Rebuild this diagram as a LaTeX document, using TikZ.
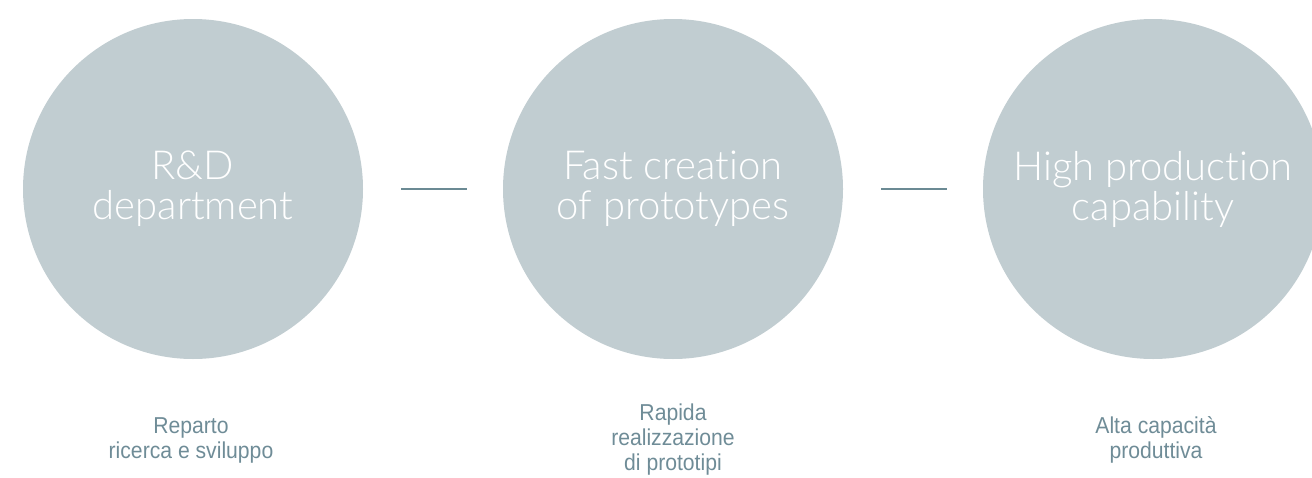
\documentclass[tikz,border=0pt]{standalone}
\usepackage{fontspec}
\setmainfont{Liberation Sans}
\newfontfamily\thinfont{Lato}[UprightFont={* Light},Ligatures={NoCommon,NoDiscretionary,NoContextual}]
\newfontfamily\condfont{Liberation Sans}[FakeStretch=0.92]
\definecolor{circfill}{HTML}{C1CDD1}
\definecolor{linkcol}{HTML}{6B8A94}
\definecolor{labcol}{HTML}{6F8C97}
\begin{document}
\begin{tikzpicture}[x=1pt,y=-1pt,
  stage/.style={circle,fill=circfill,minimum size=340pt,inner sep=0pt,
    text=white,align=center,font=\thinfont\fontsize{40}{40}\selectfont},
  link/.style={draw=linkcol,line width=2pt},
  caption/.style={text=labcol,align=center,font=\condfont\fontsize{23}{25}\selectfont}]
\useasboundingbox (0,0) rectangle (1312,477);
\node[stage] (c1) at (193,189) {R\&D\\department};
\node[stage] (c2) at (673,189) {Fast creation\\of prototypes};
\node[stage] (c3) at (1153,189) {High production\\capability};
\coordinate (l1a) at (401,189); \coordinate (l1b) at (467,189);
\coordinate (l2a) at (881,189); \coordinate (l2b) at (947,189);
\draw[link] (l1a) -- (l1b);
\draw[link] (l2a) -- (l2b);
\node[caption] (t1) at (191,440) {Reparto\\ricerca e sviluppo};
\node[caption] (t2) at (673,440) {Rapida\\realizzazione\\di prototipi};
\node[caption] (t3) at (1156,440) {Alta capacità\\produttiva};
\end{tikzpicture}
\end{document}
